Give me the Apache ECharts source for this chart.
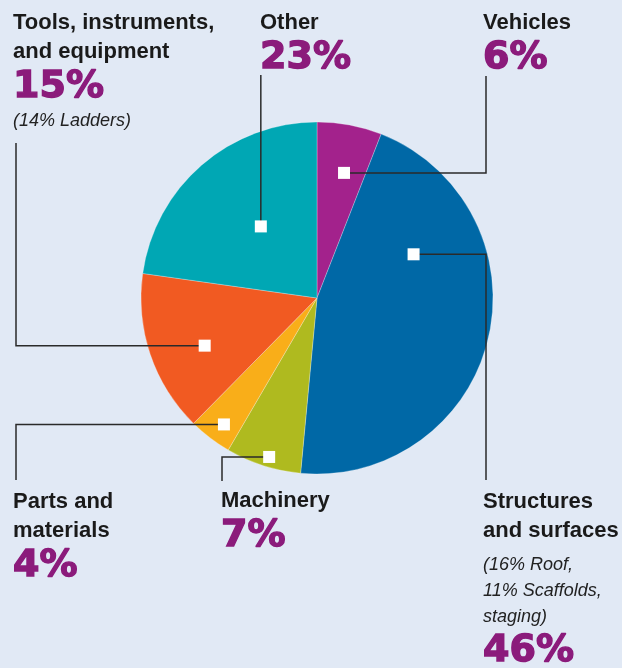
<!DOCTYPE html>
<html><head><meta charset="utf-8">
<script src="https://cdn.jsdelivr.net/npm/echarts@6/dist/echarts.min.js"></script>
<style>html,body{margin:0;padding:0;background:#e1e9f5}#c{width:622px;height:668px}</style>
</head><body><div id="c"></div>
<script>
// ---- data ----
const categories = ['Vehicles', 'Structures and surfaces', 'Machinery', 'Parts and materials', 'Tools, instruments, and equipment', 'Other'];
const nameLines = [['Vehicles'], ['Structures', 'and surfaces'], ['Machinery'], ['Parts and', 'materials'], ['Tools, instruments,', 'and equipment'], ['Other']];
const values = [6, 46, 7, 4, 15, 23];
const pctLabels = ['6%', '46%', '7%', '4%', '15%', '23%'];
const notes = [[], ['(16% Roof,', '11% Scaffolds,', 'staging)'], [], [], ['(14% Ladders)'], []];

// ---- style / layout ----
const colors = ['#a3228c', '#0068a6', '#afba1f', '#f9ae19', '#f15a22', '#00a7b4'];
const CX = 317, CY = 298, R = 176;
const labelPos = [[483, 8], [483, 487], [221, 486], [13, 487], [13, 8], [260, 8]];
const noteFirst = [false, true, false, false, false, false];
// marker: [radius px, fraction across slice]
const markerAt = [[128, 0.57], [106, 0.27], [166, 0.457], [157, 0.425], [122, 0.42], [91, 0.535]];
// leader: [corner x (null = marker x), end y]
const leader = [[486, 76], [486, 480], [222, 481], [16, 480], [16, 143], [null, 75]];

const TOTAL = values.reduce((a, b) => a + b, 0);
const starts = [];
values.reduce((acc, v, i) => { starts[i] = acc; return acc + v; }, 0);
const markerData = values.map((v, i) => [markerAt[i][0], starts[i] + markerAt[i][1] * v, i]);

const chart = echarts.init(document.getElementById('c'), null, { renderer: 'canvas' });
chart.setOption({
  backgroundColor: '#e1e9f5',
  animation: false,
  polar: { center: [CX, CY], radius: R },
  angleAxis: { type: 'value', min: 0, max: TOTAL, startAngle: 90, clockwise: true, show: false },
  radiusAxis: { type: 'value', min: 0, max: R, show: false },
  series: [{
    type: 'pie',
    z: 2,
    center: [CX, CY],
    radius: R,
    startAngle: 90,
    clockwise: true,
    avoidLabelOverlap: false,
    emphasis: { disabled: true },
    itemStyle: { borderColor: 'rgba(255,255,255,0.45)', borderWidth: 0.6 },
    data: categories.map((c, i) => ({ name: c, value: values[i], itemStyle: { color: colors[i] } })),
    label: {
      show: true,
      position: 'outside',
      formatter: p => {
        const i = p.dataIndex;
        const parts = nameLines[i].map(s => '{name|' + s + '}');
        const pct = '{pct|' + pctLabels[i] + '}';
        const nts = notes[i].map(s => '{note|' + s + '}');
        if (noteFirst[i]) { parts.push('{gap| }'); parts.push(...nts); parts.push(pct); }
        else { parts.push(pct); parts.push(...nts); }
        return parts.join('\n');
      },
      rich: {
        name: { fontFamily: 'Liberation Sans', fontWeight: 'bold', fontSize: 22, lineHeight: 29, color: '#1a1a1a' },
        pct: { fontFamily: 'DejaVu Sans', fontWeight: 'bold', fontSize: 38, lineHeight: 42, color: '#8b1b7b',
               textBorderColor: '#8b1b7b', textBorderWidth: 1.4 },
        note: { fontFamily: 'Liberation Sans', fontStyle: 'italic', fontSize: 18, lineHeight: 26, color: '#222' },
        gap: { fontSize: 1, lineHeight: 7 }
      }
    },
    labelLine: { show: false },
    labelLayout: p => ({ x: labelPos[p.dataIndex][0], y: labelPos[p.dataIndex][1], align: 'left', verticalAlign: 'top' })
  }, {
    type: 'custom',
    coordinateSystem: 'polar',
    z: 3,
    silent: true,
    data: markerData,
    renderItem: (params, api) => {
      const i = api.value(2);
      const m = api.coord([api.value(0), api.value(1)]);
      const cx = leader[i][0] == null ? m[0] : leader[i][0];
      return {
        type: 'polyline',
        shape: { points: [m, [cx, m[1]], [cx, leader[i][1]]] },
        style: { stroke: '#2a2a2a', lineWidth: 1.5, fill: null }
      };
    }
  }, {
    type: 'scatter',
    coordinateSystem: 'polar',
    z: 5,
    symbol: 'rect',
    symbolSize: 12,
    itemStyle: { color: '#ffffff', opacity: 1 },
    emphasis: { disabled: true },
    data: markerData
  }]
});
</script></body></html>
